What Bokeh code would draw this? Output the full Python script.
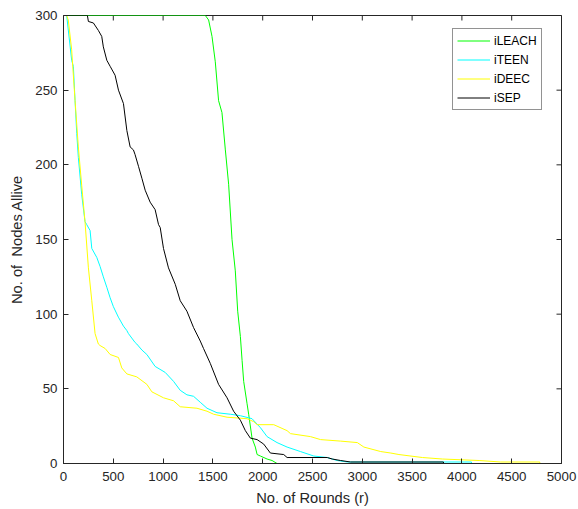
import math
from bokeh.plotting import figure
from bokeh.models import Range1d, FixedTicker, Legend, LegendItem
from bokeh.embed import file_html
from bokeh.resources import INLINE

# ---- data ----
leach_r = [0, 1424, 1457, 1491, 1524, 1557, 1591, 1625, 1658, 1692, 1725, 1749, 1776, 1793,
           1809, 1843, 1859, 1893, 1926, 1944, 1977, 2044, 2094, 2144, 3815]
leach_n = [300, 300, 297, 286, 269, 243, 235, 210, 187, 150, 129, 102, 85, 69,
           55, 40, 33, 17, 11, 6, 5, 3, 2, 0, 0]

teen_r = [0, 32, 82, 99, 116, 133, 149, 183, 216, 233, 267, 284, 334, 367, 400, 435, 468,
          501, 551, 602, 636, 652, 719, 736, 787, 837, 920, 1021, 1105, 1172, 1239, 1306,
          1373, 1441, 1541, 1675, 1776, 1893, 1977, 2044, 2144, 2245, 2379, 2513, 2648,
          2748, 2849, 4096, 4096]
teen_n = [300, 300, 270, 266, 243, 221, 205, 180, 162, 160, 156, 144, 138, 132, 125, 118, 111,
          105, 98, 92, 89, 87, 81, 80, 76, 73, 65, 61, 55, 49, 46, 45,
          41, 37, 34, 33, 32, 30, 24, 18, 14, 11, 8, 5, 4,
          2, 1, 1, 0]

deec_r = [0, 32, 48, 82, 116, 149, 183, 216, 250, 284, 317, 350, 367, 418, 468, 552, 585,
          636, 736, 837, 887, 1004, 1105, 1172, 1340, 1441, 1507, 1642, 1843, 1910, 1944,
          2111, 2245, 2279, 2480, 2581, 2782, 2950, 3016, 3185, 3286, 3368, 3604, 3805,
          4173, 4390, 4782, 4782]
deec_n = [300, 300, 297, 277, 243, 212, 186, 162, 131, 109, 87, 80, 79, 77, 73, 71, 64,
          60, 58, 53, 48, 44, 42, 38, 37, 35, 33, 31, 30, 28, 26,
          26, 22, 20, 18, 16, 15, 14, 11, 8, 7, 6, 4, 3,
          2, 1, 1, 0]

sep_r = [0, 240, 250, 300, 350, 384, 400, 435, 468, 518, 552, 602, 636, 669, 702, 718, 753,
         787, 820, 870, 920, 954, 971, 1004, 1054, 1122, 1172, 1239, 1306, 1373, 1406, 1474,
         1557, 1642, 1708, 1776, 1826, 1876, 1944, 2010, 2077, 2211, 2245, 2648, 2698, 2782,
         2882, 3815, 3815]
sep_n = [300, 300, 296, 295, 290, 286, 279, 270, 266, 260, 250, 241, 223, 212, 210, 207, 199,
         191, 183, 175, 170, 160, 158, 144, 131, 120, 109, 102, 91, 82, 77, 67,
         53, 44, 35, 29, 22, 17, 16, 13, 7, 6, 4, 4, 3, 2,
         1, 1, 0]

series_names = ["iLEACH", "iTEEN", "iDEEC", "iSEP"]
series_colors = ["#00FF00", "#00FFFF", "#FFFF00", "#000000"]

x_ticks = list(range(0, 5001, 500))
y_ticks = list(range(0, 301, 50))
x_max = 5000
y_max = 300

FONT = "Liberation Sans"
AX = "#262626"

p = figure(width=578, height=509, x_range=Range1d(0, x_max), y_range=Range1d(0, y_max),
           output_backend="svg", toolbar_location=None,
           min_border_left=63, min_border_right=17, min_border_top=15, min_border_bottom=46)
p.background_fill_color = "white"
p.border_fill_color = "white"
p.grid.visible = False
p.outline_line_color = AX
p.outline_line_width = 1

for ax in (p.xaxis[0], p.yaxis[0]):
    ax.axis_line_color = AX
    ax.major_tick_line_color = AX
    ax.major_tick_in = 5
    ax.major_tick_out = 0
    ax.minor_tick_line_color = None
    ax.major_label_text_font = FONT
    ax.major_label_text_font_size = "13.3px"
    ax.major_label_text_color = AX
    ax.axis_label_text_font = FONT
    ax.axis_label_text_font_size = "14.7px"
    ax.axis_label_text_font_style = "normal"
    ax.axis_label_text_color = AX

p.xaxis[0].ticker = FixedTicker(ticks=x_ticks)
p.yaxis[0].ticker = FixedTicker(ticks=y_ticks)
p.xaxis[0].axis_label = "No. of Rounds (r)"
p.yaxis[0].axis_label = "No. of\u00a0 Nodes Allive"
p.xaxis[0].major_label_standoff = 8
p.xaxis[0].axis_label_standoff = 6
p.yaxis[0].major_label_standoff = 6
p.yaxis[0].axis_label_standoff = 7

# inward ticks on the top and right edges of the box (half of each dash is clipped by the frame)
p.scatter(x=x_ticks, y=[y_max] * len(x_ticks), marker="dash", angle=math.pi / 2, size=10,
          line_color=AX, line_width=1)
p.scatter(x=[x_max] * len(y_ticks), y=y_ticks, marker="dash", size=10,
          line_color=AX, line_width=1)

data = [(leach_r, leach_n), (teen_r, teen_n), (deec_r, deec_n), (sep_r, sep_n)]
renderers = []
for (xs, ys), c in zip(data, series_colors):
    renderers.append(p.line(xs, ys, line_color=c, line_width=1))

legend = Legend(items=[LegendItem(label=n, renderers=[r]) for n, r in zip(series_names, renderers)],
                location=(389, 353), border_line_color=AX, border_line_width=1,
                label_text_font=FONT, label_text_font_size="12px", label_text_color="#000000",
                glyph_width=33, glyph_height=15, label_height=15, spacing=4, padding=4,
                margin=0, label_standoff=4, background_fill_color="white")
p.add_layout(legend)

open("out.html", "w").write(file_html(p, INLINE))
